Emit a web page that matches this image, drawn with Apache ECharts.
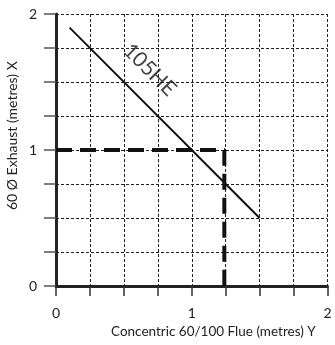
<!DOCTYPE html>
<html><head><meta charset="utf-8">
<script src="https://cdn.jsdelivr.net/npm/echarts@6/dist/echarts.min.js"></script>
<style>html,body{margin:0;padding:0;background:#fff}#c{width:335px;height:345px}</style>
</head><body><div id="c"></div>
<script>
// Data
const lineX = [0.1, 1.5];
const lineY = [1.9, 0.5];
const limitX = [0, 1.24, 1.24];
const limitY = [1, 1, 0];
const curveLabel = '105HE';
const labelPos = [0.69, 1.59];
const xTicks = [0, 1, 2];
const yTicks = [0, 1, 2];
const xName = 'Concentric 60/100 Flue (metres) Y';
const yName = '60 Ø Exhaust (metres) X';

const FONT = 'Lato, "Open Sans", sans-serif';
const chart = echarts.init(document.getElementById('c'), null, {renderer: 'canvas'});
const split = {show: true, lineStyle: {color: '#222', width: 1, type: [3, 2]}};
const fmt = v => (Math.abs(v - Math.round(v)) < 1e-9 && xTicks.indexOf(Math.round(v)) >= 0) ? String(Math.round(v)) : '';
chart.setOption({
  animation: false,
  grid: {left: 56, top: 14, right: 7.5, bottom: 59},
  xAxis: {
    type: 'value', min: 0, max: 2, interval: 0.25,
    axisLine: {show: true, onZero: false, lineStyle: {color: '#222', width: 3}},
    axisTick: {show: true, length: 10, lineStyle: {color: '#333', width: 1.5}},
    axisLabel: {formatter: fmt, margin: 20, fontSize: 14, color: '#222', fontFamily: FONT},
    splitLine: split
  },
  yAxis: {
    type: 'value', min: 0, max: 2, interval: 0.25,
    axisLine: {show: true, onZero: false, lineStyle: {color: '#222', width: 3}},
    axisTick: {show: true, length: 12, lineStyle: {color: '#555', width: 1.5}},
    axisLabel: {formatter: fmt, margin: 19, fontSize: 14, color: '#222', fontFamily: FONT},
    splitLine: split
  },
  series: [
    {
      type: 'line', data: lineX.map((x, i) => [x, lineY[i]]), symbol: 'none',
      lineStyle: {color: '#111', width: 2}, z: 3
    },
    {
      type: 'line', data: limitX.map((x, i) => [x, limitY[i]]), symbol: 'none',
      lineStyle: {color: '#111', width: 4, type: [16, 8]}, z: 4
    },
    {
      type: 'scatter', data: [labelPos], symbolSize: 0,
      label: {show: true, position: 'inside', formatter: curveLabel, rotate: -45,
        fontSize: 21, color: '#111', fontFamily: FONT}, z: 5
    }
  ],
  graphic: [
    {type: 'text', x: 111, y: 325,
      style: {text: xName, fontSize: 13.5, fill: '#222', fontFamily: FONT, verticalAlign: 'top'}},
    {type: 'text', rotation: Math.PI / 2, x: 5, y: 210,
      style: {text: yName, fontSize: 14, fill: '#222', fontFamily: FONT, verticalAlign: 'top'}}
  ]
});
</script></body></html>
